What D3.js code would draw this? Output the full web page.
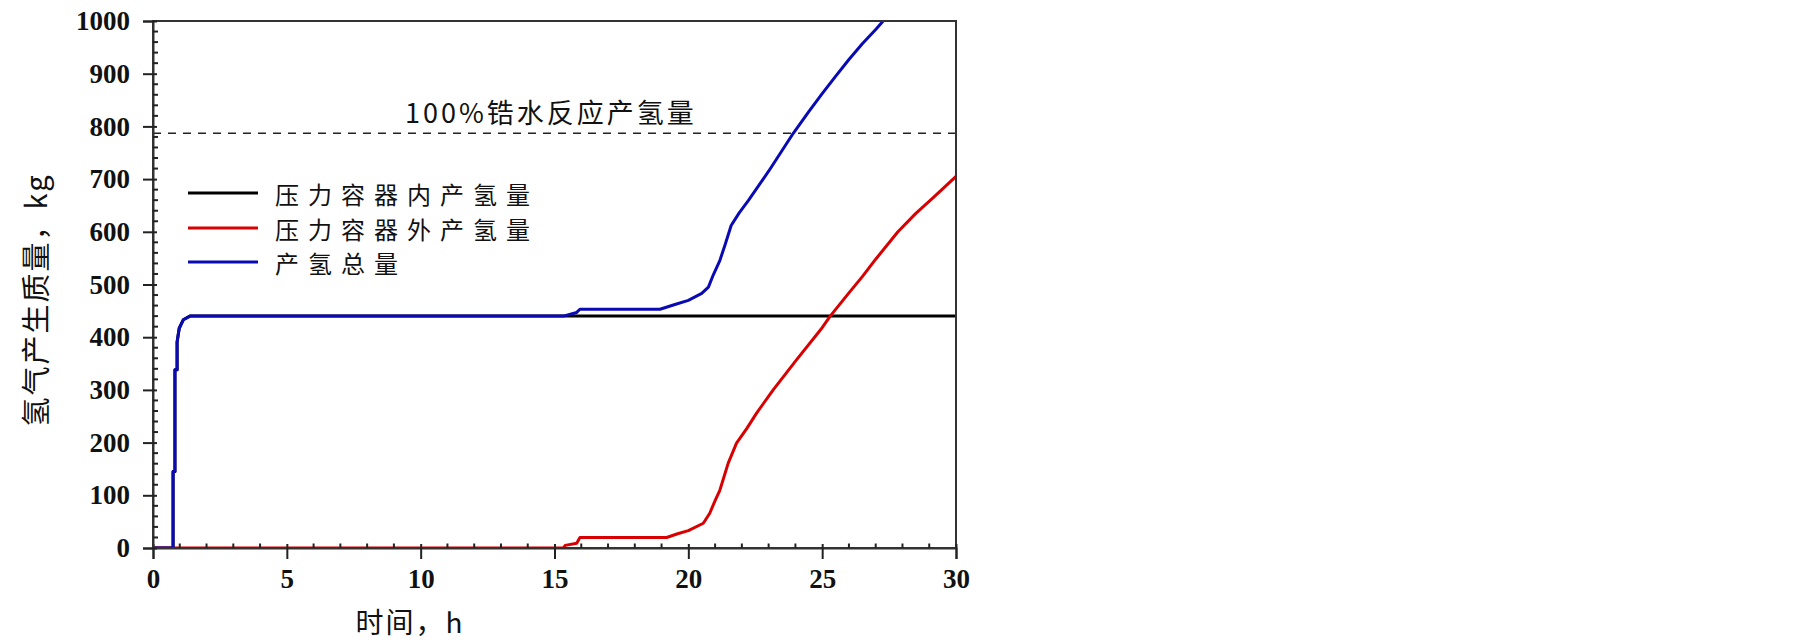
<!DOCTYPE html>
<html><head><meta charset="utf-8">
<script src="https://cdn.jsdelivr.net/npm/d3@7"></script>
<style>
body{margin:0;background:#fff;}
svg{display:block;}
</style></head>
<body>
<svg id="chart" width="1805" height="642"></svg>
<script>
// ---- data ----
const xTicks = [0, 5, 10, 15, 20, 25, 30];
const yTicks = [0, 100, 200, 300, 400, 500, 600, 700, 800, 900, 1000];
const seriesNames = ["压力容器内产氢量", "压力容器外产氢量", "产氢总量"];
const seriesColors = ["#000000", "#d80000", "#0a0ab4"];
const refValue = 787;
const refLabel = "100%锆水反应产氢量";
const xTitle = "时间，h";
const yTitle = "氢气产生质量，kg";

const insideData = [[0,0],[0.75,0],[0.75,145],[0.82,145],[0.82,338],[0.9,338],[0.9,391],[0.98,417],[1.13,433],[1.38,440],[30,440]];
const outsideData = [[0,0],[15.33,0],[15.4,5],[15.83,9],[15.95,20],[19.19,20],[19.6,27],[20.0,33],[20.56,47],[20.8,66],[21.0,90],[21.18,110],[21.49,161],[21.8,199],[22.2,228],[22.55,256],[23.17,300],[24.04,357],[25.0,418],[25.3,440],[26.0,484],[26.5,515],[27.0,548],[27.83,600],[28.5,635],[29.15,665],[30,705]];
const totalData = [[0,0],[0.75,0],[0.75,145],[0.82,145],[0.82,338],[0.9,338],[0.9,391],[0.98,417],[1.13,433],[1.38,440],[15.33,440],[15.83,447],[15.95,453],[18.94,453],[19.5,462],[20.0,470],[20.5,483],[20.75,495],[20.93,518],[21.18,546],[21.37,575],[21.6,612],[21.9,636],[22.24,659],[23.0,715],[23.92,787],[24.5,828],[25.0,862],[25.5,895],[26.0,927],[26.5,957],[27.0,984],[27.28,1000]];

// ---- layout ----
const svg = d3.select("#chart");
const L = 153, R = 956, T = 21, B = 548;
const x = d3.scaleLinear().domain([0, 30]).range([L, R]);
const y = d3.scaleLinear().domain([0, 1000]).range([B, T]);

svg.append("defs").append("clipPath").attr("id","clip")
  .append("rect").attr("x",L).attr("y",T).attr("width",R-L).attr("height",B-T);

// reference dashed line
svg.append("line").attr("x1",L).attr("x2",R).attr("y1",y(refValue)).attr("y2",y(refValue))
  .attr("stroke","#222").attr("stroke-width",1.6).attr("stroke-dasharray","8,7");
svg.append("text").attr("x",405).attr("y",y(refValue)-22)
  .attr("font-family","'Noto Sans CJK SC', sans-serif").attr("font-size",27)
  .attr("letter-spacing",3).attr("fill","#111").attr("dominant-baseline","central")
  .text(refLabel);

// lines
const line = d3.line().x(d=>x(d[0])).y(d=>y(d[1]));
const g = svg.append("g").attr("clip-path","url(#clip)");
[insideData, outsideData, totalData].forEach((data,i)=>{
  g.append("path").datum(data).attr("d",line).attr("fill","none")
    .attr("stroke",seriesColors[i]).attr("stroke-width",3).attr("stroke-linejoin","round");
});

// frame
svg.append("rect").attr("x",L).attr("y",T).attr("width",R-L).attr("height",B-T)
  .attr("fill","none").attr("stroke","#333").attr("stroke-width",2);

// axes
const xAxis = svg.append("g").attr("transform",`translate(0,${B})`)
  .call(d3.axisBottom(x).tickValues(xTicks).tickSize(11).tickFormat(d3.format("d")));
const yAxis = svg.append("g").attr("transform",`translate(${L},0)`)
  .call(d3.axisLeft(y).tickValues(yTicks).tickSize(10).tickFormat(d3.format("d")));
[xAxis,yAxis].forEach(a=>{
  a.select(".domain").attr("stroke","#333").attr("stroke-width",2);
  a.selectAll(".tick line").attr("stroke","#222").attr("stroke-width",2);
  a.selectAll(".tick text").attr("font-family","'Liberation Serif', serif")
    .attr("font-weight","bold").attr("font-size",27).attr("fill","#111");
});
xAxis.selectAll(".tick text").attr("dy","0.95em");
yAxis.selectAll(".tick text").attr("x",-23).attr("dy","0.32em");
// inside parts of major ticks
xAxis.selectAll(".tick").append("line").attr("y1",0).attr("y2",-4).attr("stroke","#222").attr("stroke-width",2);
yAxis.selectAll(".tick").append("line").attr("x1",0).attr("x2",4).attr("stroke","#222").attr("stroke-width",2);
// minor ticks
const xMinor = d3.range(0,31,1).filter(v=>v%5!==0);
const yMinor = d3.range(0,1001,20).filter(v=>v%100!==0);
svg.append("g").selectAll("line").data(xMinor).join("line")
  .attr("x1",d=>x(d)).attr("x2",d=>x(d)).attr("y1",B).attr("y2",B-4.5)
  .attr("stroke","#222").attr("stroke-width",2);
svg.append("g").selectAll("line").data(yMinor).join("line")
  .attr("y1",d=>y(d)).attr("y2",d=>y(d)).attr("x1",L).attr("x2",L+5)
  .attr("stroke","#222").attr("stroke-width",2);

// axis titles
svg.append("text").attr("x",410).attr("y",621)
  .attr("font-family","'Noto Sans CJK SC', sans-serif").attr("font-size",28)
  .attr("text-anchor","middle").attr("dominant-baseline","central").attr("fill","#111")
  .attr("letter-spacing",2).text(xTitle);
svg.append("text").attr("transform","translate(34,300) rotate(-90)")
  .attr("font-family","'Noto Sans CJK SC', sans-serif").attr("font-size",29)
  .attr("text-anchor","middle").attr("dominant-baseline","central").attr("fill","#111")
  .attr("letter-spacing",2).text(yTitle);

// legend
const legY = [193, 228, 262];
seriesNames.forEach((n,i)=>{
  svg.append("line").attr("x1",188).attr("x2",258).attr("y1",legY[i]).attr("y2",legY[i])
    .attr("stroke",seriesColors[i]).attr("stroke-width",3);
  svg.append("text").attr("x",275).attr("y",legY[i])
    .attr("font-family","'Noto Sans CJK SC', sans-serif").attr("font-size",24)
    .attr("letter-spacing",9).attr("dominant-baseline","central").attr("fill","#111").text(n);
});
</script>
</body></html>
